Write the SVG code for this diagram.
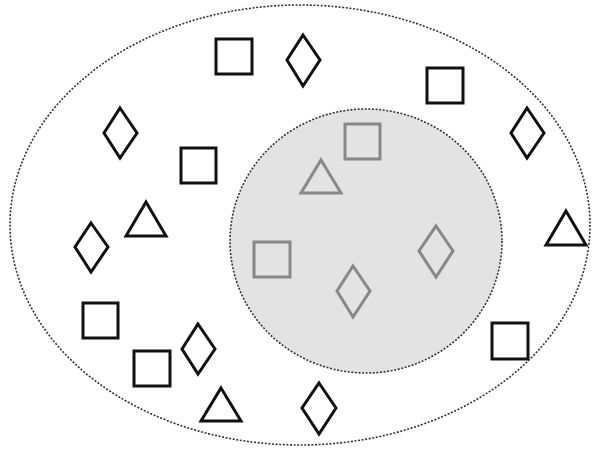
<svg xmlns="http://www.w3.org/2000/svg" width="592" height="450" viewBox="0 0 592 450">
<style>
.set{fill:#fff;stroke:#333;stroke-width:1.6;stroke-dasharray:2 1.6}
.inner{fill:#e3e3e3;stroke:#333;stroke-width:1.6;stroke-dasharray:2 1.6}
.b{fill:none;stroke:#111;stroke-width:3;stroke-linejoin:miter}
.g{fill:none;stroke:#888;stroke-width:3;stroke-linejoin:miter}
</style>
<rect width="592" height="450" fill="#fff"/>
<g id="outer-set"><ellipse class="set" cx="300" cy="225" rx="290" ry="220"/></g>
<g id="inner-set"><ellipse class="inner" cx="366" cy="241" rx="136" ry="132"/></g>
<g id="connectors"></g>
<g id="n1"><rect class="b" x="216" y="39" width="36" height="35"/></g>
<g id="n2"><polygon class="b" points="303,35 320,60 303,86 287,60"/></g>
<g id="n3"><rect class="b" x="427" y="68" width="36" height="35"/></g>
<g id="n4"><polygon class="b" points="120,108 137,133 120,158 104,133"/></g>
<g id="n5"><polygon class="b" points="527,108 544,133 527,158 511,133"/></g>
<g id="n6"><rect class="b" x="181" y="148" width="35" height="35"/></g>
<g id="n7"><polygon class="b" points="146,202 166,236 126,236"/></g>
<g id="n8"><polygon class="b" points="91,223 108,247 91,272 75,247"/></g>
<g id="n9"><polygon class="b" points="566,211 586,245 546,245"/></g>
<g id="n10"><rect class="b" x="83" y="303" width="35" height="35"/></g>
<g id="n11"><rect class="b" x="134" y="351" width="36" height="35"/></g>
<g id="n12"><polygon class="b" points="198,324 215,349 198,374 182,349"/></g>
<g id="n13"><polygon class="b" points="221,388 241,421 201,421"/></g>
<g id="n14"><polygon class="b" points="319,383 336,408 319,434 302,408"/></g>
<g id="n15"><rect class="b" x="492" y="323" width="36" height="36"/></g>
<g id="g1"><rect class="g" x="345" y="124" width="35" height="35"/></g>
<g id="g2"><polygon class="g" points="321,160 341,193 301,193"/></g>
<g id="g3"><rect class="g" x="254" y="242" width="36" height="35"/></g>
<g id="g4"><polygon class="g" points="436,226 453,251 436,277 419,251"/></g>
<g id="g5"><polygon class="g" points="353,266 370,291 353,317 337,291"/></g>
</svg>
